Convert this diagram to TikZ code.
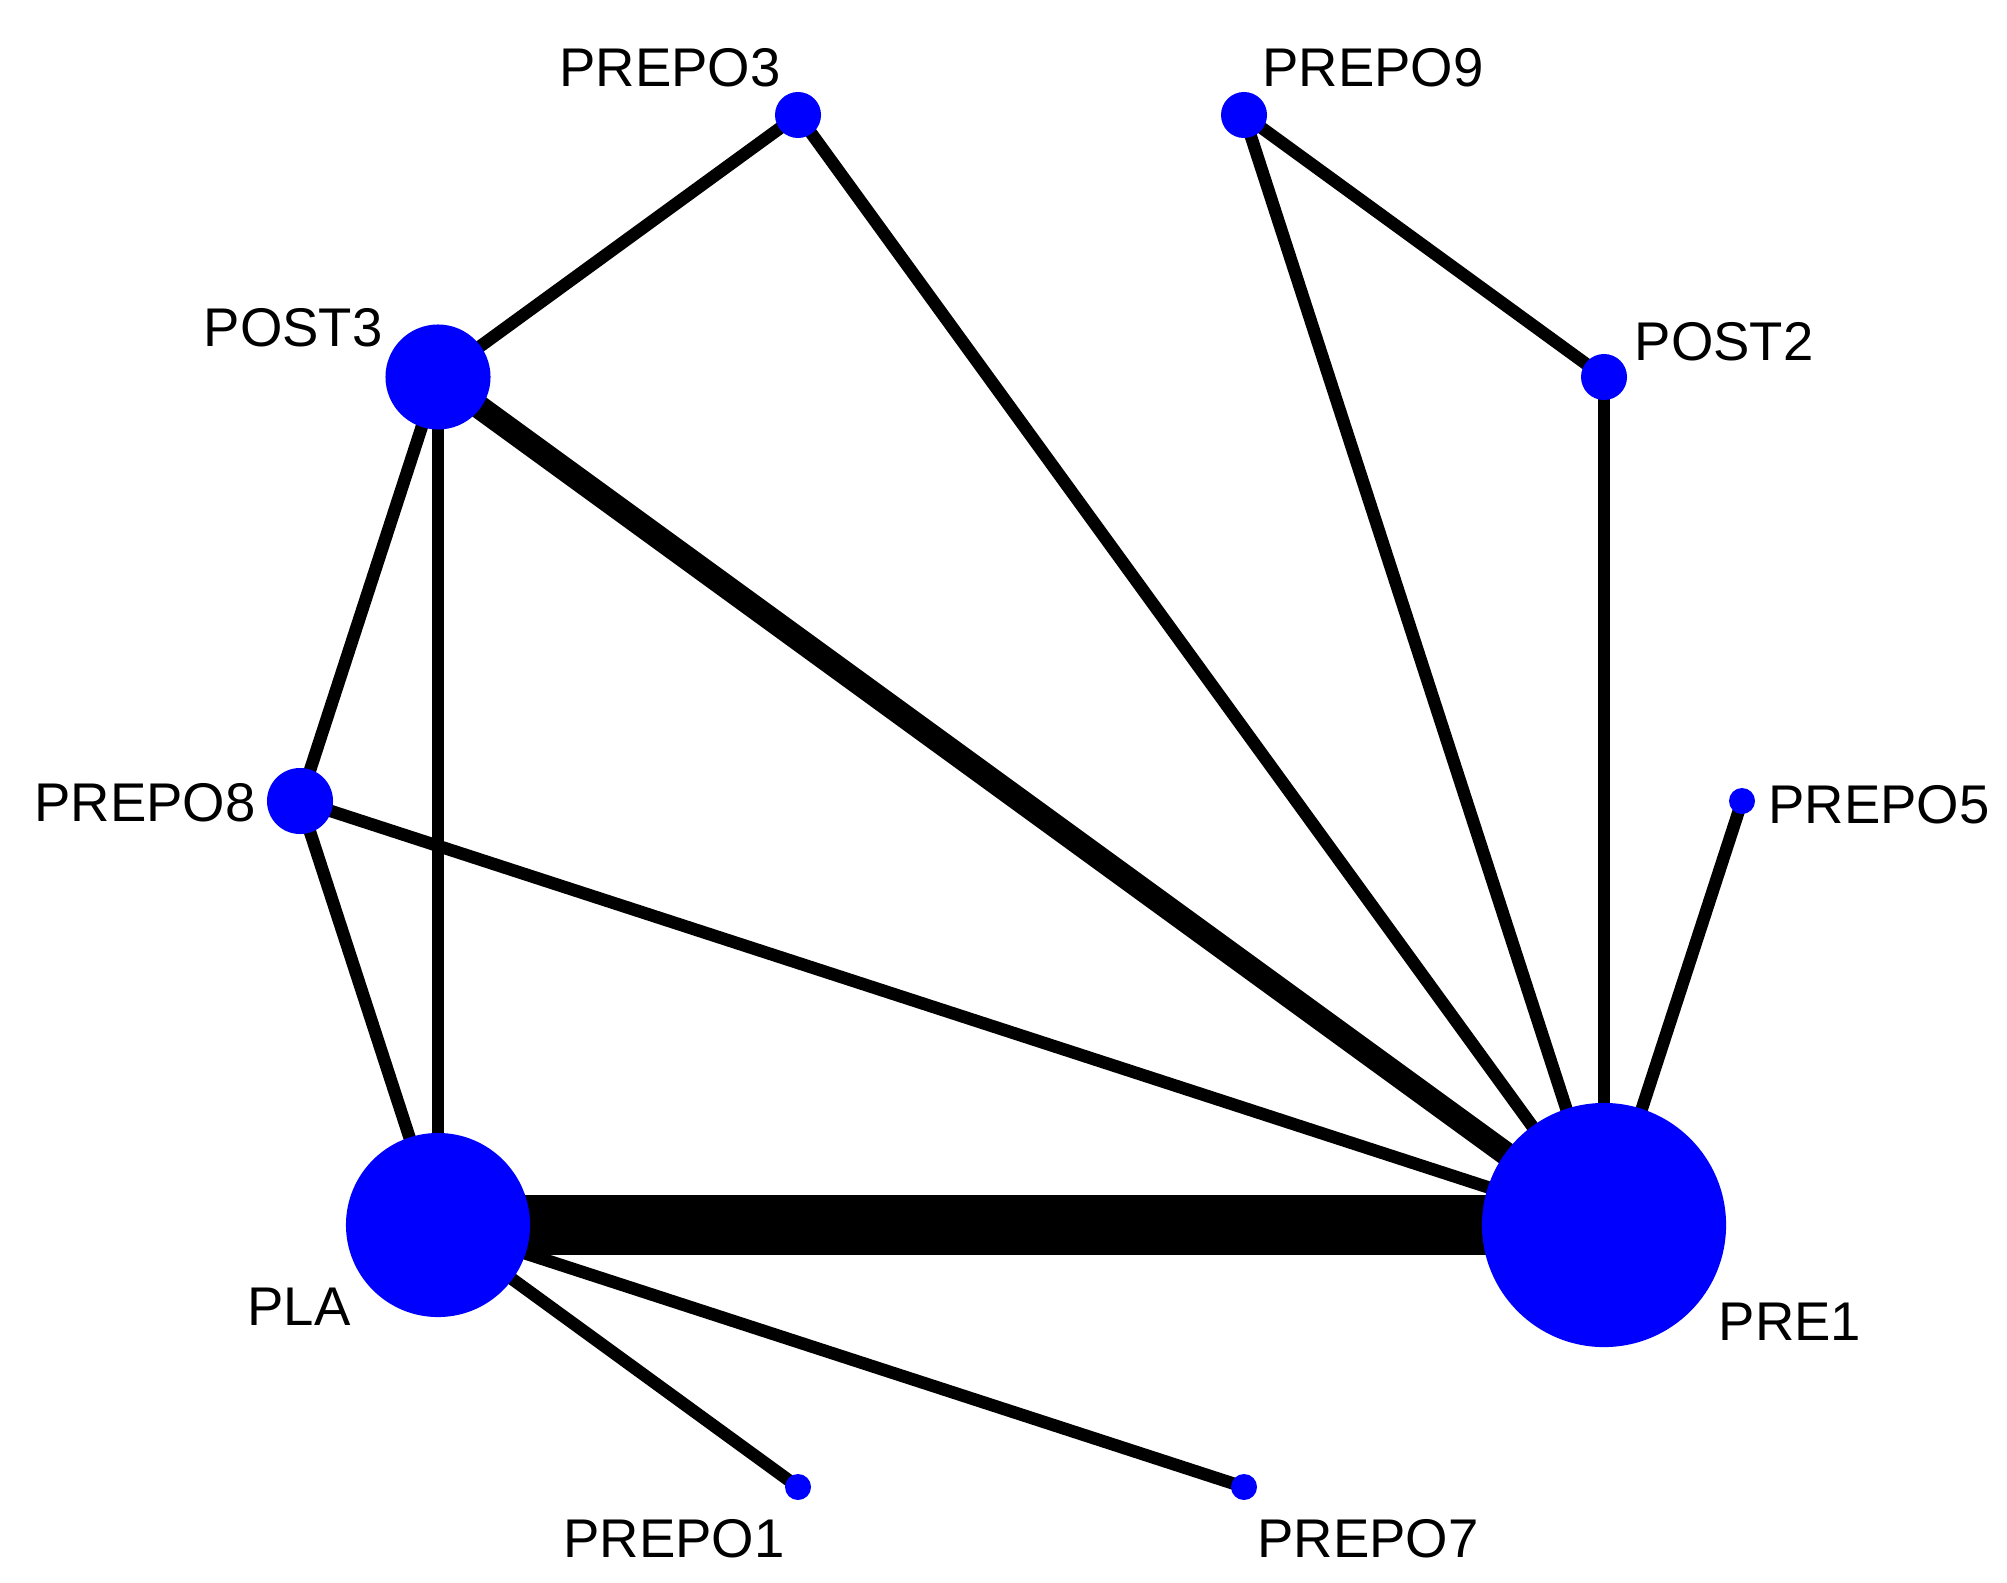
\documentclass[tikz,border=0pt]{standalone}
\usepackage{fontspec}
\setmainfont{Liberation Sans}
\usetikzlibrary{backgrounds}
\definecolor{NodeBlue}{HTML}{0000FF}
\tikzset{
  trt/.style={circle, fill=NodeBlue, inner sep=0pt},
  trtlabel/.style={font=\fontsize{15.5}{18}\selectfont, inner sep=0pt},
  link/.style={line width=1.25mm, draw=black},
  heavylink/.style={line width=2.35mm, draw=black},
  mainlink/.style={line width=6mm, draw=black}
}

\begin{document}
\begin{tikzpicture}[x=0.01cm,y=-0.01cm]
  \useasboundingbox (0,0) rectangle (2007,1582);
  % treatments round the circle
  \node[trt,minimum size=0.26cm] (PREPO5) at (1742,801) {};
  \node[trt,minimum size=0.46cm] (POST2) at (1604,377) {};
  \node[trt,minimum size=0.46cm] (PREPO9) at (1244,115) {};
  \node[trt,minimum size=0.46cm] (PREPO3) at (798,115) {};
  \node[trt,minimum size=1.05cm] (POST3) at (438,377) {};
  \node[trt,minimum size=0.66cm] (PREPO8) at (300,801) {};
  \node[trt,minimum size=1.84cm] (PLA) at (438,1225) {};
  \node[trt,minimum size=0.26cm] (PREPO1) at (798,1487) {};
  \node[trt,minimum size=0.26cm] (PREPO7) at (1244,1487) {};
  \node[trt,minimum size=2.44cm] (PRE1) at (1604,1225) {};
  % labels
  \node[trtlabel] (lPREPO5) at (1879,805) {PREPO5};
  \node[trtlabel] (lPOST2) at (1724,342) {POST2};
  \node[trtlabel] (lPREPO9) at (1373,68) {PREPO9};
  \node[trtlabel] (lPREPO3) at (670,68) {PREPO3};
  \node[trtlabel] (lPOST3) at (293,328) {POST3};
  \node[trtlabel] (lPREPO8) at (145,803) {PREPO8};
  \node[trtlabel] (lPLA) at (299,1307) {PLA};
  \node[trtlabel] (lPREPO1) at (674,1539) {PREPO1};
  \node[trtlabel] (lPREPO7) at (1368,1539) {PREPO7};
  \node[trtlabel] (lPRE1) at (1790,1322) {PRE1};
  % comparisons
  \begin{scope}[on background layer]
    \draw[mainlink] (PLA.center) -- (PRE1.center);
    \draw[heavylink] (POST3.center) -- (PRE1.center);
    \draw[link] (PREPO3.center) -- (POST3.center);
    \draw[link] (PREPO3.center) -- (PRE1.center);
    \draw[link] (PREPO9.center) -- (PRE1.center);
    \draw[link] (PREPO9.center) -- (POST2.center);
    \draw[link] (POST2.center) -- (PRE1.center);
    \draw[link] (PREPO5.center) -- (PRE1.center);
    \draw[link] (POST3.center) -- (PREPO8.center);
    \draw[link] (POST3.center) -- (PLA.center);
    \draw[link] (PREPO8.center) -- (PLA.center);
    \draw[link] (PREPO8.center) -- (PRE1.center);
    \draw[link] (PLA.center) -- (PREPO1.center);
    \draw[link] (PLA.center) -- (PREPO7.center);
  \end{scope}
\end{tikzpicture}
\end{document}
